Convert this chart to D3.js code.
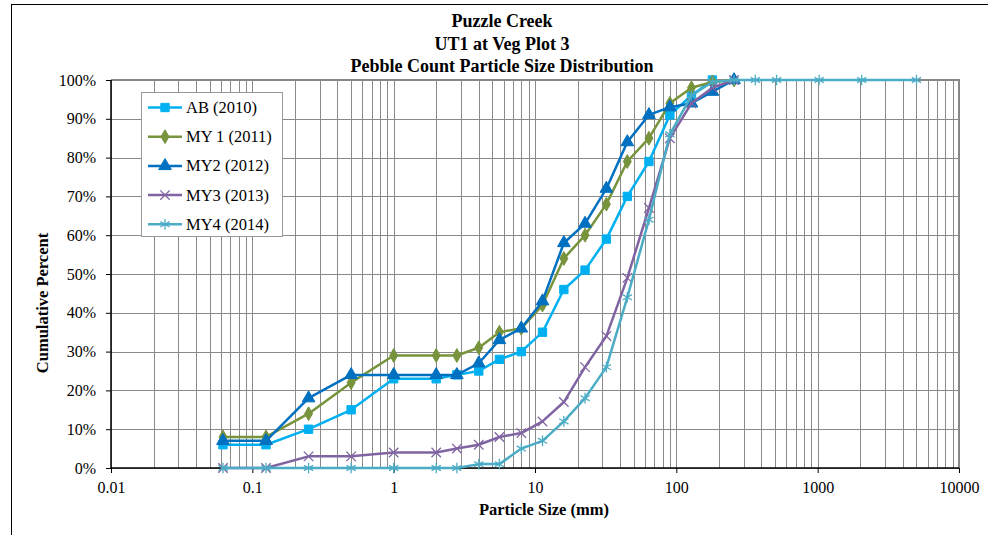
<!DOCTYPE html>
<html><head><meta charset="utf-8">
<script src="https://cdn.jsdelivr.net/npm/d3@7/dist/d3.min.js"></script>
<style>body{margin:0;background:#fff}svg{display:block}text{font-family:"Liberation Serif","Times New Roman",serif}</style>
</head><body><svg id="c" width="988" height="535"></svg>
<script>
const titleLines = ["Puzzle Creek", "UT1 at Veg Plot 3", "Pebble Count Particle Size Distribution"];
const xTitle = "Particle Size (mm)";
const yTitle = "Cumulative Percent";
const xTicks = [0.01, 0.1, 1, 10, 100, 1000, 10000];
const yTicks = [0, 10, 20, 30, 40, 50, 60, 70, 80, 90, 100];

const sizes = [0.062, 0.125, 0.25, 0.5, 1, 2, 2.8, 4, 5.6, 8, 11.3, 16, 22.6, 32, 45, 64, 90, 128, 180, 256];
const sizesMY4 = [0.062, 0.125, 0.25, 0.5, 1, 2, 2.8, 4, 5.6, 8, 11.3, 16, 22.6, 32, 45, 64, 90, 128, 180, 256, 362, 512, 1024, 2048, 5000];

const ab2010 = [6, 6, 10, 15, 23, 23, 24, 25, 28, 30, 35, 46, 51, 59, 70, 79, 91, 96, 100, null];
const my1_2011 = [8, 8, 14, 22, 29, 29, 29, 31, 35, 36, 42, 54, 60, 68, 79, 85, 94, 98, 99.5, 100];
const my2_2012 = [7, 7, 18, 24, 24, 24, 24, 27, 33, 36, 43, 58, 63, 72, 84, 91, 93, 94, 97, 100];
const my3_2013 = [0, 0, 3, 3, 4, 4, 5, 6, 8, 9, 12, 17, 26, 34, 49, 67, 85, 94, 98, 100];
const my4_2014 = [0, 0, 0, 0, 0, 0, 0, 1, 1, 5, 7, 12, 18, 26, 44, 64, 86, 96, 99.5, 100, 100, 100, 100, 100, 100];

const seriesNames = ["AB (2010)", "MY 1 (2011)", "MY2 (2012)", "MY3 (2013)", "MY4 (2014)"];
const seriesColors = ["#00B0F0", "#77933C", "#0070C0", "#8064A2", "#4BACC6"];
const seriesSymbols = ["square", "diamond", "triangle", "x", "star"];

const series = [
  {name: seriesNames[0], xs: sizes, ys: ab2010},
  {name: seriesNames[1], xs: sizes, ys: my1_2011},
  {name: seriesNames[2], xs: sizes, ys: my2_2012},
  {name: seriesNames[3], xs: sizes, ys: my3_2013},
  {name: seriesNames[4], xs: sizesMY4, ys: my4_2014}
].map((s, i) => ({...s, color: seriesColors[i], sym: seriesSymbols[i],
  pts: s.xs.map((x, j) => ({x, y: s.ys[j]})).filter(p => p.y != null)}));

const svg = d3.select("#c");
const L = 111, R = 959, T = 80, B = 468;
const x = d3.scaleLog().domain([0.01, 10000]).range([L, R]);
const y = d3.scaleLinear().domain([0, 100]).range([B, T]);
const FONT = '"Liberation Serif","Times New Roman",serif';

// outer border
svg.append("rect").attr("x", 11.5).attr("y", 4.5).attr("width", 990).attr("height", 540)
  .attr("fill", "none").attr("stroke", "#000").attr("stroke-width", 1);

// gridlines
const gridX = [];
for (let e = -2; e <= 3; e++) for (let m = 1; m <= 9; m++) gridX.push(m * Math.pow(10, e));
gridX.push(10000);
const g = svg.append("g");
g.selectAll(".vx").data(gridX).join("line")
  .attr("x1", d => Math.round(x(d)) + 0.5).attr("x2", d => Math.round(x(d)) + 0.5)
  .attr("y1", T).attr("y2", B).attr("stroke", "#8a8a8a").attr("stroke-width", 1);
g.selectAll(".hy").data(yTicks).join("line")
  .attr("x1", L).attr("x2", R).attr("y1", d => Math.round(y(d)) + 0.5).attr("y2", d => Math.round(y(d)) + 0.5)
  .attr("stroke", "#8a8a8a").attr("stroke-width", 1);

// top/right border
svg.append("path").attr("d", `M${L},${T} H${R} V${B}`).attr("fill", "none")
  .attr("stroke", "#888").attr("stroke-width", 2);

// axes
const yAxis = d3.axisLeft(y).tickValues(yTicks).tickFormat(d => d + "%").tickSize(5).tickPadding(10);
const ya = svg.append("g").attr("transform", `translate(${L},0)`).call(yAxis);
const xAxis = d3.axisBottom(x).tickValues(xTicks).tickFormat(d => String(d)).tickSize(5).tickPadding(9);
const xa = svg.append("g").attr("transform", `translate(0,${B})`).call(xAxis);
[ya, xa].forEach(a => {
  a.select(".domain").attr("stroke", "#000").attr("stroke-width", 1.5);
  a.selectAll(".tick line").attr("stroke", "#000");
  a.selectAll("text").attr("font-size", 16).attr("fill", "#000").attr("font-family", FONT);
});
ya.select(".domain").attr("d", `M0,${T}V${B}`);
xa.select(".domain").attr("d", `M${L},0H${R}`);

// titles
svg.selectAll(".title").data(titleLines).join("text")
  .attr("x", 502).attr("y", (d, i) => 27 + i * 22.5).attr("text-anchor", "middle")
  .attr("font-size", 18).attr("font-weight", "bold").text(d => d);
svg.append("text").attr("x", 544).attr("y", 515).attr("text-anchor", "middle")
  .attr("font-size", 16.5).attr("font-weight", "bold").text(xTitle);
svg.append("text").attr("transform", "translate(48,303) rotate(-90)").attr("text-anchor", "middle")
  .attr("font-size", 16.5).attr("font-weight", "bold").text(yTitle);

// symbols
const symType = {square: d3.symbolSquare, diamond: d3.symbolDiamond, triangle: d3.symbolTriangle, x: d3.symbolTimes, star: d3.symbolAsterisk};
const symSize = {square: 70, diamond: 55, triangle: 70, x: 60, star: 80};
function drawSym(sel, s) {
  const path = d3.symbol().type(symType[s.sym]).size(symSize[s.sym]);
  const filled = s.sym === "square" || s.sym === "diamond" || s.sym === "triangle";
  sel.attr("d", path).attr("fill", filled ? s.color : "none")
    .attr("stroke", s.color).attr("stroke-width", filled ? 1 : 1.3);
}

const line = d3.line().x(d => x(d.x)).y(d => y(d.y));
series.forEach(s => {
  const gs = svg.append("g");
  gs.append("path").datum(s.pts).attr("d", line).attr("fill", "none")
    .attr("stroke", s.color).attr("stroke-width", 2.5).attr("stroke-linejoin", "round");
  gs.selectAll("path.m").data(s.pts).join("path").attr("class", "m")
    .attr("transform", d => `translate(${x(d.x)},${y(d.y)})`).call(drawSym, s);
});

// legend
const lg = svg.append("g");
lg.append("rect").attr("x", 141.5).attr("y", 92.5).attr("width", 141).attr("height", 144)
  .attr("fill", "#fff").attr("stroke", "#999").attr("stroke-width", 1);
series.forEach((s, i) => {
  const yy = 107.5 + i * 29.2;
  lg.append("line").attr("x1", 148).attr("x2", 182).attr("y1", yy).attr("y2", yy)
    .attr("stroke", s.color).attr("stroke-width", 2.5);
  lg.append("path").attr("transform", `translate(165,${yy})`).call(drawSym, s);
  lg.append("text").attr("x", 186).attr("y", yy + 5.5).attr("font-size", 16.5).text(s.name);
});
</script></body></html>
